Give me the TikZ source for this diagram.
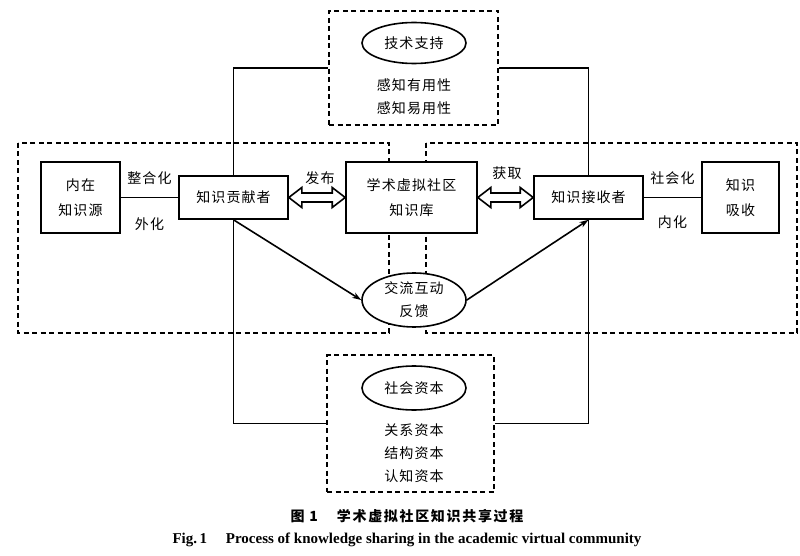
\documentclass[tikz,border=0pt]{standalone}
\usepackage{fontspec}
\setmainfont{Liberation Serif}
\newfontfamily\cjk[LetterSpace=8]{Noto Sans CJK SC}
\newfontfamily\cjkcap[LetterSpace=12]{Noto Sans CJK SC}
\usetikzlibrary{shapes.geometric,arrows.meta,calc}

\tikzset{
  box/.style={draw, line width=1.6pt, fill=white, inner sep=0pt, align=center,
    font=\cjk\fontsize{14}{25}\selectfont},
  oval/.style={box, ellipse},
  frame/.style={draw, line width=1.5pt, dash pattern=on 5pt off 3.5pt},
  lbl/.style={font=\cjk\fontsize{14}{23}\selectfont, align=center},
  link/.style={line width=1.6pt},
}
% hollow two-headed arrow between two anchors
\newcommand{\sharearrow}[2]{%
  \draw [link, line join=miter, fill=white] (#1) -- ++(13,-10) -- ++(0,5.5)
    -- ($(#2)+(-13,-4.5)$) -- ++(0,-5.5) -- (#2) -- ++(-13,10) -- ++(0,-5.5)
    -- ($(#1)+(13,4.5)$) -- ++(0,5.5) -- cycle;}

\begin{document}
\begin{tikzpicture}[x=1pt, y=-1pt]
        \useasboundingbox (0,0) rectangle (800,556);
        % group frames
        \draw [frame] (18,143) rectangle (389,333);
        \draw [frame] (426,143) rectangle (797,333);
        \node [frame, minimum width=169pt, minimum height=114pt] (tech) at (413.5,68) {};
        \node [frame, minimum width=167pt, minimum height=137pt] (soc) at (410.5,423.5) {};

        % main nodes
        \node [box, minimum width=79pt, minimum height=71pt] (src) at (80.5,197.5) {内在\\知识源};
        \node [box, minimum width=109pt, minimum height=43pt] (ctb) at (233.5,197.5) {知识贡献者};
        \node [box, minimum width=131pt, minimum height=71pt] (lib) at (411.5,197.5) {学术虚拟社区\\知识库};
        \node [box, minimum width=109pt, minimum height=43pt] (rcv) at (588.5,197.5) {知识接收者};
        \node [box, minimum width=77pt, minimum height=71pt] (abs) at (740.5,197.5) {知识\\吸收};
        \node [oval, minimum width=104pt, minimum height=54pt, font=\cjk\fontsize{14}{23}\selectfont] (fbk) at (414,300) {交流互动\\反馈};

        % factors
        \node [oval, minimum width=104pt, minimum height=41pt] (techo) at (414,43) {技术支持};
        \node [lbl] (techt) at (414,96.5) {感知有用性\\感知易用性};
        \node [oval, minimum width=104pt, minimum height=44pt] (soco) at (414,388) {社会资本};
        \node [lbl] (soct) at (414,453) {关系资本\\结构资本\\认知资本};

        % flows
        \draw [link] (src) -- (ctb)
            node [lbl, midway, above=9pt] {整合化}
            node [lbl, midway, below=16pt] {外化};
        \draw [link] (rcv) -- (abs)
            node [lbl, midway, above=9pt] {社会化}
            node [lbl, midway, below=14pt] {内化};
        \sharearrow{ctb.east}{lib.west}
        \sharearrow{lib.east}{rcv.west}
        \node [lbl] (pub) at (320,178) {发布};
        \node [lbl] (get) at (507,173) {获取};
        \draw [link, -{Stealth[length=9pt,width=6pt]}] (ctb.south) -- (fbk.west);
        \draw [link, -{Stealth[length=9pt,width=6pt]}] (fbk.east) -- (rcv.south);
        \draw [link] (ctb.north) |- (tech.west);
        \draw [link] (rcv.north) |- (tech.east);
        \draw [link] (ctb.south) |- (soc.west);
        \draw [link] (rcv.south) |- (soc.east);

        % caption
        \node [font=\cjkcap\bfseries\fontsize{14}{17}\selectfont] (capcn) at (407,516) {图\ 1\quad\ 学术虚拟社区知识共享过程};
        \node [font=\bfseries\fontsize{15}{18}\selectfont] (capen) at (407,540) {Fig.\,1\quad\ Process of knowledge sharing in the academic virtual community};
\end{tikzpicture}
\end{document}
